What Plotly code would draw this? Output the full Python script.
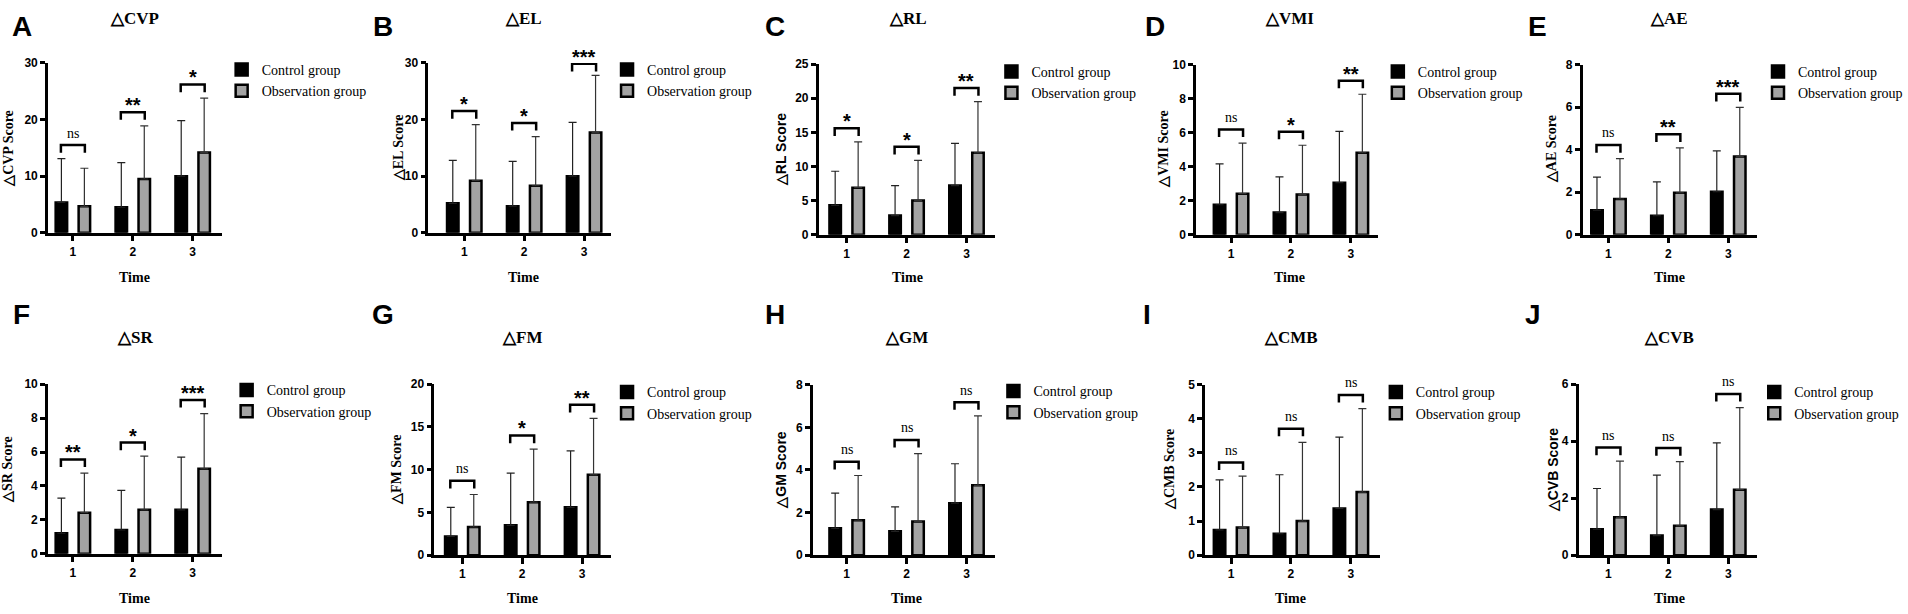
import plotly.graph_objects as go

W, H = 1908, 614

times = [1, 2, 3]
time_labels = ['1', '2', '3']
group_names = ['Control group', 'Observation group']

# mean and SD (upper error bar) per time point
cvp_control = [5.35, 4.5, 10.0]
cvp_control_sd = [7.75, 7.9, 9.8]
cvp_obs = [4.66, 9.5, 14.2]
cvp_obs_sd = [6.74, 9.4, 9.6]
cvp_sig = ['ns', '**', '*']

el_control = [5.2, 4.7, 10.0]
el_control_sd = [7.6, 7.9, 9.5]
el_obs = [9.2, 8.3, 17.7]
el_obs_sd = [9.9, 8.7, 10.1]
el_sig = ['*', '*', '***']

rl_control = [4.3, 2.8, 7.2]
rl_control_sd = [5.0, 4.4, 6.2]
rl_obs = [6.9, 5.0, 12.0]
rl_obs_sd = [6.7, 5.9, 7.5]
rl_sig = ['*', '*', '**']

vmi_control = [1.76, 1.30, 3.06]
vmi_control_sd = [2.41, 2.10, 3.02]
vmi_obs = [2.41, 2.37, 4.82]
vmi_obs_sd = [2.98, 2.89, 3.44]
vmi_sig = ['ns', '*', '**']

ae_control = [1.15, 0.89, 2.02]
ae_control_sd = [1.56, 1.59, 1.92]
ae_obs = [1.68, 1.97, 3.68]
ae_obs_sd = [1.90, 2.11, 2.31]
ae_sig = ['ns', '**', '***']

sr_control = [1.21, 1.40, 2.59]
sr_control_sd = [2.07, 2.34, 3.11]
sr_obs = [2.42, 2.59, 5.01]
sr_obs_sd = [2.34, 3.17, 3.26]
sr_sig = ['**', '*', '***']

fm_control = [2.2, 3.5, 5.6]
fm_control_sd = [3.4, 6.1, 6.6]
fm_obs = [3.3, 6.2, 9.4]
fm_obs_sd = [3.8, 6.2, 6.6]
fm_sig = ['ns', '*', '**']

gm_control = [1.26, 1.12, 2.44]
gm_control_sd = [1.65, 1.15, 1.85]
gm_obs = [1.64, 1.58, 3.28]
gm_obs_sd = [2.10, 3.19, 3.26]
gm_sig = ['ns', 'ns', 'ns']

cmb_control = [0.74, 0.63, 1.37]
cmb_control_sd = [1.47, 1.73, 2.09]
cmb_obs = [0.81, 1.0, 1.85]
cmb_obs_sd = [1.51, 2.31, 2.45]
cmb_sig = ['ns', 'ns', 'ns']

cvb_control = [0.91, 0.69, 1.60]
cvb_control_sd = [1.43, 2.12, 2.34]
cvb_obs = [1.33, 1.03, 2.30]
cvb_obs_sd = [1.97, 2.25, 2.88]
cvb_sig = ['ns', 'ns', 'ns']

SERIF = 'Liberation Serif'
SANS = 'Liberation Sans'

# panel table: data refs + placement in pixels of the 1908x614 page
panels = [
    dict(letter='A', name='CVP', c=cvp_control, csd=cvp_control_sd, o=cvp_obs, osd=cvp_obs_sd, sig=cvp_sig,
         ymax=30, dtick=10, x0=48, x1=222, t1=73, top=57.3, bot=231, lx=9, letx=22, tx=135, sans_title=False,
         legx=262, legy=69),
    dict(letter='B', name='EL', c=el_control, csd=el_control_sd, o=el_obs, osd=el_obs_sd, sig=el_sig,
         ymax=30, dtick=10, x0=429, x1=612, t1=465, top=57.3, bot=231, lx=399, letx=384, tx=524, sans_title=False,
         legx=648, legy=69),
    dict(letter='C', name='RL', c=rl_control, csd=rl_control_sd, o=rl_obs, osd=rl_obs_sd, sig=rl_sig,
         ymax=25, dtick=5, x0=820, x1=997, t1=848, top=58.5, bot=233, lx=783, letx=776, tx=909, sans_title=True,
         legx=1033, legy=71),
    dict(letter='D', name='VMI', c=vmi_control, csd=vmi_control_sd, o=vmi_obs, osd=vmi_obs_sd, sig=vmi_sig,
         ymax=10, dtick=2, x0=1198, x1=1380, t1=1233, top=59, bot=233, lx=1166, letx=1157, tx=1292, sans_title=False,
         legx=1420, legy=71),
    dict(letter='E', name='AE', c=ae_control, csd=ae_control_sd, o=ae_obs, osd=ae_obs_sd, sig=ae_sig,
         ymax=8, dtick=2, x0=1585, x1=1760, t1=1611, top=59, bot=233, lx=1554, letx=1540, tx=1672, sans_title=False,
         legx=1801, legy=71),
    dict(letter='F', name='SR', c=sr_control, csd=sr_control_sd, o=sr_obs, osd=sr_obs_sd, sig=sr_sig,
         ymax=10, dtick=2, x0=48, x1=222, t1=73, top=386, bot=559.5, lx=8, letx=22, tx=135, sans_title=False,
         legx=267, legy=397),
    dict(letter='G', name='FM', c=fm_control, csd=fm_control_sd, o=fm_obs, osd=fm_obs_sd, sig=fm_sig,
         ymax=20, dtick=5, x0=435, x1=612, t1=463, top=386, bot=561, lx=397, letx=384, tx=523, sans_title=False,
         legx=648, legy=399),
    dict(letter='H', name='GM', c=gm_control, csd=gm_control_sd, o=gm_obs, osd=gm_obs_sd, sig=gm_sig,
         ymax=8, dtick=2, x0=814, x1=997, t1=848, top=386.5, bot=561, lx=782, letx=776, tx=908, sans_title=True,
         legx=1035, legy=398),
    dict(letter='I', name='CMB', c=cmb_control, csd=cmb_control_sd, o=cmb_obs, osd=cmb_obs_sd, sig=cmb_sig,
         ymax=5, dtick=1, x0=1207, x1=1382, t1=1233, top=386.5, bot=561, lx=1172, letx=1149, tx=1293, sans_title=False,
         legx=1418, legy=399),
    dict(letter='J', name='CVB', c=cvb_control, csd=cvb_control_sd, o=cvb_obs, osd=cvb_obs_sd, sig=cvb_sig,
         ymax=6, dtick=2, x0=1581, x1=1760, t1=1611, top=386, bot=561, lx=1555, letx=1535, tx=1672, sans_title=True,
         legx=1797, legy=399),
]

PX_PER_STEP = 60.0


def px(x):
    return x / W


def py(y):
    return 1 - y / H


fig = go.Figure()
shapes = []
annotations = []
layout = dict()

for i, p in enumerate(panels):
    n = i + 1
    sfx = '' if n == 1 else str(n)
    xa, ya, lg = 'x' + sfx, 'y' + sfx, 'legend' + sfx

    fig.add_trace(go.Bar(
        x=times, y=p['c'], name=group_names[0], legend=lg, xaxis=xa, yaxis=ya,
        marker=dict(color='black', line=dict(color='black', width=2.5)),
        error_y=dict(type='data', symmetric=False, array=p['csd'], arrayminus=[0, 0, 0],
                     color='#222222', thickness=1.2, width=4),
    ))
    fig.add_trace(go.Bar(
        x=times, y=p['o'], name=group_names[1], legend=lg, xaxis=xa, yaxis=ya,
        marker=dict(color='#a3a3a3', line=dict(color='black', width=2.5)),
        error_y=dict(type='data', symmetric=False, array=p['osd'], arrayminus=[0, 0, 0],
                     color='#333333', thickness=1.2, width=4),
    ))

    xr = [1 + (p['x0'] - p['t1']) / PX_PER_STEP, 1 + (p['x1'] - p['t1']) / PX_PER_STEP]
    tickfont = dict(family=SANS, size=12, color='black', weight='bold')
    layout['xaxis' + sfx] = dict(
        domain=[px(p['x0']), px(p['x1'])], range=xr, anchor=ya,
        tickvals=times, ticktext=time_labels, tickfont=tickfont,
        showline=True, linewidth=2.5, linecolor='black',
        ticks='outside', ticklen=6, tickwidth=2.5, tickcolor='black',
        showgrid=False, zeroline=False, fixedrange=True,
    )
    layout['yaxis' + sfx] = dict(
        domain=[py(p['bot']), py(p['top'])], range=[0, p['ymax']], dtick=p['dtick'], anchor=xa,
        tickfont=tickfont,
        showline=True, linewidth=2.5, linecolor='black',
        ticks='outside', ticklen=5, tickwidth=2.5, tickcolor='black',
        showgrid=False, zeroline=False, fixedrange=True,
    )
    layout[lg] = dict(
        x=px(p['legx'] - 40), y=py(p['legy'] - 21), xanchor='left', yanchor='top',
        bgcolor='rgba(0,0,0,0)', font=dict(family=SERIF, size=14, color='black'),
    )

    # significance brackets
    ymax = p['ymax']
    leg = 0.045 * ymax
    for g, c, csd, o, osd, s in zip(times, p['c'], p['csd'], p['o'], p['osd'], p['sig']):
        h = min(max(c + csd, o + osd) + 0.08 * ymax, 0.995 * ymax)
        shapes.append(dict(
            type='path', xref=xa, yref=ya, layer='above',
            path=f'M {g - 0.2},{h - leg} L {g - 0.2},{h} L {g + 0.2},{h} L {g + 0.2},{h - leg}',
            line=dict(color='black', width=2.5),
        ))
        if s == 'ns':
            font = dict(family=SERIF, size=14, color='black')
            shift = 12
        else:
            font = dict(family=SANS, size=20, color='black', weight='bold')
            shift = 7
        annotations.append(dict(
            xref=xa, yref=ya, x=g, y=h, text=s, showarrow=False,
            yanchor='middle', yshift=shift, font=font,
        ))

    row1 = p['letter'] < 'F'
    # panel letter
    annotations.append(dict(
        xref='paper', yref='paper', x=px(p['letx']), y=py(20 if row1 else 315),
        text=p['letter'], showarrow=False, xanchor='center', yanchor='middle',
        font=dict(family=SANS, size=28, color='black', weight='bold'),
    ))
    # panel title
    annotations.append(dict(
        xref='paper', yref='paper', x=px(p['tx']), y=py(12 if row1 else 338),
        text='△' + p['name'], showarrow=False, xanchor='center', yanchor='middle',
        font=dict(family=SERIF, size=17, color='black', weight='bold'),
    ))
    # y title
    yt_font = SANS if p['sans_title'] else SERIF
    annotations.append(dict(
        xref='paper', yref='paper', x=px(p['lx']), y=py((p['top'] + p['bot']) / 2),
        text='△' + p['name'] + ' Score', showarrow=False, textangle=-90,
        xanchor='center', yanchor='middle',
        font=dict(family=yt_font, size=14, color='black', weight='bold'),
    ))
    # x title
    annotations.append(dict(
        xref='paper', yref='paper', x=px(p['tx']), y=py(277 if row1 else 605),
        text='Time', showarrow=False, xanchor='center', yanchor='middle',
        font=dict(family=SERIF, size=14, color='black', weight='bold'),
    ))

fig.update_layout(
    width=W, height=H, margin=dict(l=0, r=0, t=0, b=0),
    paper_bgcolor='white', plot_bgcolor='white',
    barmode='group', bargap=0.233, bargroupgap=0.5,
    showlegend=True, shapes=shapes, annotations=annotations,
    **layout,
)

fig.write_html("out.html", config={'displayModeBar': False},
               post_script="document.body.style.margin='0';")
